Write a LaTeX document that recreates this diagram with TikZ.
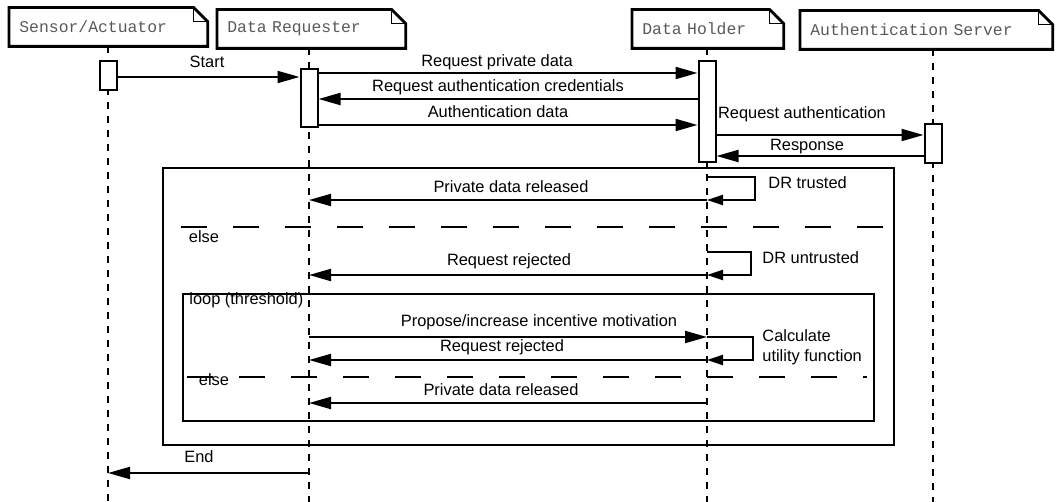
\documentclass[tikz,border=0pt]{standalone}
\usepackage{fontspec}
\setmainfont{Liberation Sans}
\setmonofont{Liberation Mono}
\usetikzlibrary{arrows.meta}

\begin{document}
\begin{tikzpicture}[x=0.5pt, y=-0.5pt,
    every node/.style={font=\fontsize{8.2}{10}\selectfont},
    actor/.style={anchor=west, inner xsep=5pt, inner ysep=0pt, minimum height=19pt, align=left, text=black!65, font=\fontsize{8.2}{10}\selectfont\ttfamily},
    bar/.style={draw, fill=white, line width=1pt, minimum width=8.5pt, inner sep=0pt},
    life/.style={line width=0.7pt, dash pattern=on 3.5pt off 3.5pt},
    msg/.style={line width=1pt, -{Triangle[length=11pt, width=6pt]}},
    selfmsg/.style={line width=1pt, -{Triangle[length=8pt, width=5pt]}},
    frame/.style={line width=1pt},
    sep/.style={line width=1pt, dash pattern=on 13pt off 13pt},
    lbl/.style={inner sep=1pt}]
    \useasboundingbox (0,0) rectangle (1060,502);

    % Actors
    \node[actor, text width=89pt] (sa) at (9,27) {Sensor/Actuator};
    \node[actor, text width=84pt] (dr) at (217,29) {Data Requester};
    \node[actor, text width=65.5pt] (dh) at (632,29) {Data Holder};
    \node[actor, text width=116pt] (as) at (800,30) {Authentication Server};
    \foreach \a in {sa,dr,dh,as} {
        \draw[line width=1.4pt] (\a.south west) -- (\a.north west) -- ([xshift=-7pt]\a.north east)
            -- ([yshift=-7pt]\a.north east) -- (\a.south east) -- cycle;
        \draw[line width=0.5pt] ([xshift=-7pt]\a.north east) |- ([yshift=-7pt]\a.north east);
    }

    % Frames
    \draw[frame] (163,168) rectangle (894,445);
    \draw[frame] (183,294) rectangle (874,421);
    \draw[sep] (181,227) -- (883,227);
    \draw[sep] (187,377) -- (867,377);
    \node[lbl] (else1) at (204,237) {else};
    \node[lbl] (else2) at (214,380) {else};
    \node[lbl, anchor=west] (loop) at (187,300) {loop (threshold)};

    % Lifelines
    \coordinate (saEnd) at (108,502);
    \coordinate (drEnd) at (309,502);
    \coordinate (dhEnd) at (707,502);
    \coordinate (asEnd) at (933,502);
    \draw[life] (sa.south -| saEnd) -- (saEnd);
    \draw[life] (dr.south -| drEnd) -- (drEnd);
    \draw[life] (dh.south -| dhEnd) -- (dhEnd);
    \draw[life] (as.south -| asEnd) -- (asEnd);

    % Activation bars
    \node[bar, minimum height=14.5pt] (saBar) at (108,75.5) {};
    \node[bar, minimum height=29pt] (drBar) at (309,98) {};
    \node[bar, minimum height=50.5pt] (dhBar) at (707,111.5) {};
    \node[bar, minimum height=19.5pt] (asBar) at (933,143.5) {};

    % Authentication
    \draw[msg] (saBar.east |- 0,77) -- (drBar.west |- 0,77);
    \node[lbl] (lStart) at (207,62) {Start};
    \draw[msg] (drBar.east |- 0,73) -- (dhBar.west |- 0,73);
    \node[lbl] (lReq) at (497,62) {Request private data};
    \draw[msg] (dhBar.west |- 0,99) -- (drBar.east |- 0,99);
    \node[lbl] (lCred) at (498,87) {Request authentication credentials};
    \draw[msg] (drBar.east |- 0,125) -- (dhBar.west |- 0,125);
    \node[lbl] (lAuth) at (498,112) {Authentication data};
    \draw[msg] (dhBar.east |- 0,135) -- (asBar.west |- 0,135);
    \node[lbl] (lReqAuth) at (802,114) {Request authentication};
    \draw[msg] (asBar.west |- 0,156) -- (dhBar.east |- 0,156);
    \node[lbl] (lResp) at (807,147) {Response};

    % Trusted
    \draw[selfmsg] (dhEnd |- 0,177) -- ++(24pt,0) |- (dhEnd |- 0,200);
    \node[lbl, anchor=west] (lTrust) at (766,183) {DR trusted};
    \draw[msg] (dhEnd |- 0,200) -- (drEnd |- 0,200);
    \node[lbl] (lRel1) at (511,187) {Private data released};

    % Untrusted
    \draw[selfmsg] (dhEnd |- 0,252) -- ++(22pt,0) |- (dhEnd |- 0,275);
    \node[lbl, anchor=west] (lUntrust) at (760,258) {DR untrusted};
    \draw[msg] (dhEnd |- 0,275) -- (drEnd |- 0,275);
    \node[lbl] (lRej1) at (509,261) {Request rejected};

    % Loop
    \draw[msg] (drEnd |- 0,337) -- (dhEnd |- 0,337);
    \node[lbl] (lProp) at (539,322) {Propose/increase incentive motivation};
    \draw[selfmsg] (dhEnd |- 0,337) -- ++(23pt,0) |- (dhEnd |- 0,360);
    \node[lbl, anchor=west, align=left] (lCalc) at (760,347) {Calculate\\utility function};
    \draw[msg] (dhEnd |- 0,360) -- (drEnd |- 0,360);
    \node[lbl] (lRej2) at (502,347) {Request rejected};
    \draw[msg] (dhEnd |- 0,403) -- (drEnd |- 0,403);
    \node[lbl] (lRel2) at (501,390) {Private data released};

    \draw[msg] (drEnd |- 0,473) -- (saEnd |- 0,473);
    \node[lbl] (lEnd) at (199,457) {End};
\end{tikzpicture}
\end{document}
